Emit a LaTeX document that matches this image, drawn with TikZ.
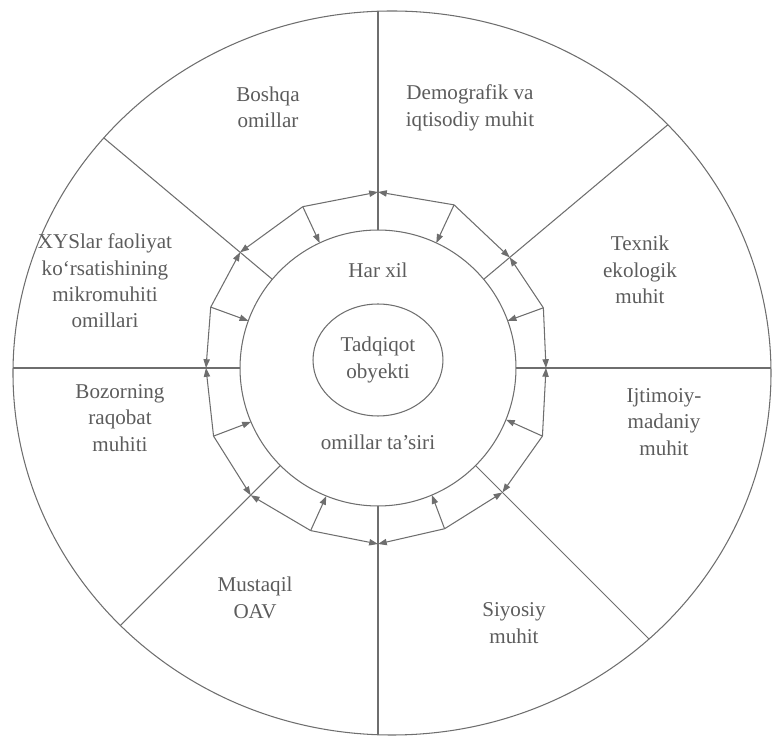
\documentclass[tikz,border=0pt]{standalone}
\usepackage{fontspec}
\setmainfont{Liberation Serif}
\usepackage{xcolor}
\usetikzlibrary{arrows.meta,shapes.geometric}
\definecolor{pencil}{HTML}{6E6E6E}
\definecolor{lead}{HTML}{5C5C5C}

\begin{document}
\begin{tikzpicture}[x=0.02cm, y=0.02cm, line width=0.6pt, color=pencil,
    flow/.style={-{Triangle[length=5pt,width=3.6pt]}},
    factor/.style={text=lead, align=center, font=\fontsize{12}{15}\selectfont}]
    \useasboundingbox (-378,-369) rectangle (404,368);

    % Outer ring and inner circle
    \draw (14,-5) ellipse [x radius=379, y radius=362];
    \node[circle, draw, minimum size=5.52cm, inner sep=0pt, outer sep=0pt] (inner) at (0,0) {};
    \node[ellipse, draw, minimum width=2.6cm, minimum height=2.24cm, inner sep=0pt, factor] (object) at (0,8) {Tadqiqot\\obyekti};

    % Spokes
    \begin{scope}
        \clip (14,-5) ellipse [x radius=379, y radius=362];
        \draw (inner.90) -- (90:420);
        \draw (inner.40) -- (40:420);
        \draw (inner.0) -- (0:420);
        \draw (inner.-45) -- (-45:420);
        \draw (inner.-90) -- (-90:420);
        \draw (inner.-135) -- (-135:420);
        \draw (inner.180) -- (180:420);
        \draw (inner.140) -- (140:420);
    \end{scope}

    % Arrow ring
    \coordinate (s1) at (90:176);
    \coordinate (s2) at (40:172);
    \coordinate (s3) at (0:168);
    \coordinate (s4) at (-45:176);
    \coordinate (s5) at (-90:176);
    \coordinate (s6) at (-135:180);
    \coordinate (s7) at (180:172);
    \coordinate (s8) at (140:180);

    \coordinate (m1) at (65:180);
    \coordinate (m2) at (20:176);
    \coordinate (m3) at (-22.5:178);
    \coordinate (m4) at (-67.5:174);
    \coordinate (m5) at (-112.5:176);
    \coordinate (m6) at (-157.5:178);
    \coordinate (m7) at (160:178);
    \coordinate (m8) at (115:178);

    \draw (m1) edge[flow] (s1) edge[flow] (s2) edge[flow] (inner.65);
    \draw (m2) edge[flow] (s2) edge[flow] (s3) edge[flow] (inner.20);
    \draw (m3) edge[flow] (s3) edge[flow] (s4) edge[flow] (inner.-22.5);
    \draw (m4) edge[flow] (s4) edge[flow] (s5) edge[flow] (inner.-67.5);
    \draw (m5) edge[flow] (s5) edge[flow] (s6) edge[flow] (inner.-112.5);
    \draw (m6) edge[flow] (s6) edge[flow] (s7) edge[flow] (inner.-157.5);
    \draw (m7) edge[flow] (s7) edge[flow] (s8) edge[flow] (inner.160);
    \draw (m8) edge[flow] (s8) edge[flow] (s1) edge[flow] (inner.115);

    % Factors
    \node[factor] (other) at (-110,261) {Boshqa\\omillar};
    \node[factor] (demo) at (92,260) {Demografik va\\iqtisodiy muhit};
    \node[factor] (tech) at (262,98) {Texnik\\ekologik\\muhit};
    \node[factor] (social) at (286,-54) {Ijtimoiy-\\madaniy\\muhit};
    \node[factor] (polit) at (136,-255) {Siyosiy\\muhit};
    \node[factor] (media) at (-123,-230) {Mustaqil\\OAV};
    \node[factor] (market) at (-258,-50) {Bozorning\\raqobat\\muhiti};
    \node[factor] (micro) at (-273,87) {XYSlar faoliyat\\ko‘rsatishining\\mikromuhiti\\omillari};
    \node[factor] (various) at (0,98) {Har xil};
    \node[factor] (impact) at (0,-74) {omillar ta’siri};

\end{tikzpicture}
\end{document}
